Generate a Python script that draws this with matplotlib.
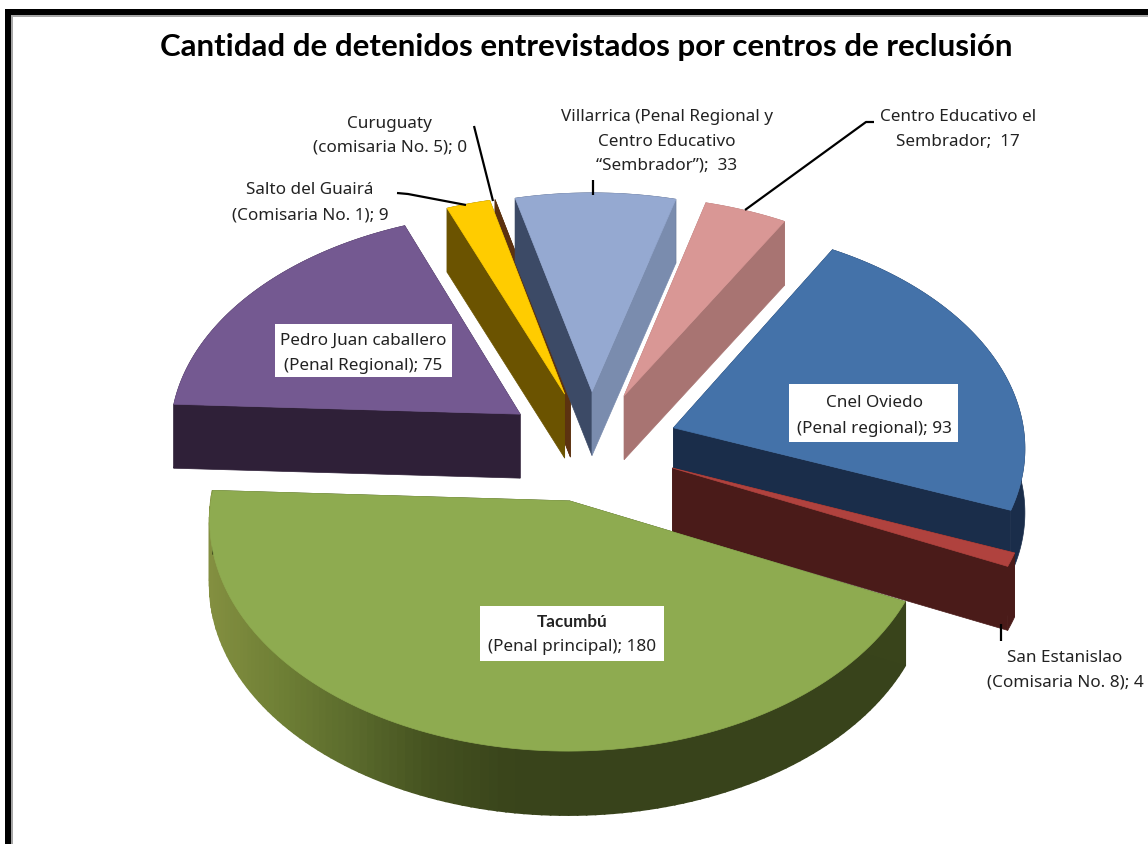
import matplotlib
matplotlib.use('Agg')
import matplotlib.pyplot as plt
import numpy as np
from matplotlib.colors import LinearSegmentedColormap
from matplotlib.patches import Rectangle

# Slices in clockwise order, starting at Cnel Oviedo.
names = ['Cnel Oviedo', 'San Estanislao', 'Tacumbu', 'Pedro Juan',
         'Salto', 'Curuguaty', 'Villarrica', 'Centro Educativo']
values = [93, 4, 180, 75, 9, 0, 33, 17]
top_colors = ['#4472a9', '#b0423e', '#8eab50', '#745991',
              '#ffcc00', '#5c3210', '#95a9d1', '#d99795']
start_walls = ['#1a2d4a', '#4a1b19', '#39441b', '#2f2038',
               '#6b5300', '#5c3210', '#3c4a66', '#a87472']
end_walls = ['#1a2d4a', '#4a1b19', '#39441b', '#2f2038',
             '#6b5300', '#5c3210', '#7a8cae', '#a87472']
# Back slices are painted first.
draw_order = [3, 5, 4, 6, 7, 0, 1, 2]

title = 'Cantidad de detenidos entrevistados por centros de reclusión'

# Pie geometry in pixels of the 1148x845 picture.
start_angle = 30.0
explode = 0.25
centre_x, centre_y = 591, 447
radius_x, radius_y = 352, 222
tilt = 0.077
depth = 64


def project(x, y):
    """Perspective view of a point on the pie plane."""
    w = 1 + tilt * y
    return centre_x + radius_x * x / w, centre_y - radius_y * y / w


fig = plt.figure(figsize=(11.48, 8.45), dpi=100)
ax = fig.add_axes([0, 0, 1, 1])
ax.set_xlim(0, 1148)
ax.set_ylim(845, 0)
ax.axis('off')

# Outer frame: only the top and left sides are in the picture.
ax.add_patch(Rectangle((11, 16), 1137, 2, color='#a6a6a6', lw=0))
ax.add_patch(Rectangle((11, 16), 2, 829, color='#a6a6a6', lw=0))
ax.add_patch(Rectangle((5, 10), 1143, 6, color='black', lw=0))
ax.add_patch(Rectangle((5, 10), 6, 835, color='black', lw=0))

edges = start_angle + np.cumsum([0] + values) / sum(values) * 360
wall_cmap = LinearSegmentedColormap.from_list(
    'wall', ['#838f40', '#6e7f35', '#5a6a2c', '#455220', '#3a451b', '#38431b'])

for i in draw_order:
    a0, a1 = np.radians(edges[i]), np.radians(edges[i + 1])
    mid = (a0 + a1) / 2
    off_x, off_y = explode * np.sin(mid), explode * np.cos(mid)
    arc = np.linspace(a0, a1, 120)
    tip = project(off_x, off_y)
    px, py = project(off_x + np.sin(arc), off_y + np.cos(arc))

    # Outer wall, shaded from left to right on the big slice.
    if names[i] == 'Tacumbu':
        for j in range(len(arc) - 1):
            shade = wall_cmap(np.clip((px[j] - px.min()) / 370, 0, 1))
            ax.fill([px[j], px[j + 1], px[j + 1], px[j]],
                    [py[j], py[j + 1], py[j + 1] + depth, py[j] + depth],
                    color=shade, lw=1.2)
    else:
        ax.fill(np.r_[px, px[::-1]], np.r_[py, py[::-1] + depth],
                color=start_walls[i], lw=0.5)

    # Flat walls along both cut edges.
    ax.fill([tip[0], px[0], px[0], tip[0]],
            [tip[1], py[0], py[0] + depth, tip[1] + depth],
            color=start_walls[i], lw=0.5)
    ax.fill([tip[0], px[-1], px[-1], tip[0]],
            [tip[1], py[-1], py[-1] + depth, tip[1] + depth],
            color=end_walls[i], lw=0.5)

    # Top face.
    if values[i] > 0:
        ax.fill(np.r_[tip[0], px], np.r_[tip[1], py],
                color=top_colors[i], lw=0.5)

# Leader lines.
line_style = {'color': 'black', 'lw': 1.6, 'solid_capstyle': 'butt'}
ax.plot([474, 493], [127, 202], **line_style)
ax.plot([397, 408, 466], [194, 195, 206], **line_style)
ax.plot([593, 593], [181, 196], **line_style)
ax.plot([874, 866, 745], [123, 123, 211], **line_style)
ax.plot([1001, 1001], [625, 642], **line_style)

# White boxes behind the labels that sit on the slices.
for box in [(275, 325, 177, 53), (789, 385, 169, 58), (480, 607, 184, 55)]:
    ax.add_patch(Rectangle(box[:2], box[2], box[3], color='white', lw=0, zorder=3))


def label(x, y, text, family='Noto Sans', **kwargs):
    ax.text(x, y, text, ha='center', va='center', fontsize=12.3,
            family=family, color='#222222', zorder=4, **kwargs)


label(389, 124, 'Curuguaty')
label(390, 148, '(comisaria No. 5); 0')
label(310, 190, 'Salto del Guairá')
label(310, 215, '(Comisaria No. 1); 9')
label(667, 117, 'Villarrica (Penal Regional y')
label(667, 142, 'Centro Educativo')
label(667, 166, '“Sembrador”);  33')
label(958, 117, 'Centro Educativo el')
label(958, 142, 'Sembrador;  17')
label(363, 341, 'Pedro Juan caballero')
label(363, 366, '(Penal Regional); 75')
label(874, 403, 'Cnel Oviedo')
label(874, 429, '(Penal regional); 93')
label(572, 622, 'Tacumbú', family='Lato', fontweight='bold')
label(572, 647, '(Penal principal); 180')
label(1065, 658, 'San Estanislao')
label(1065, 683, '(Comisaria No. 8); 4')

ax.text(586, 47, title, ha='center', va='center', fontsize=22.5,
        family='Lato', fontweight='bold', color='black')

fig.savefig('out.png', dpi=100)
